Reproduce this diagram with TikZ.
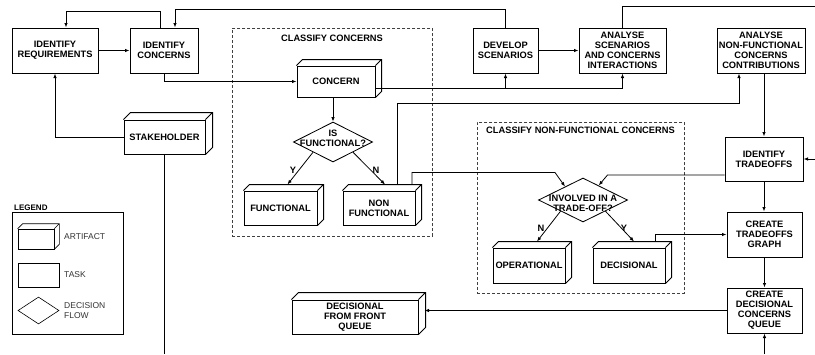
\documentclass[tikz,border=0pt]{standalone}
\usepackage{fontspec}
\setmainfont{Liberation Sans}
\usetikzlibrary{arrows.meta,calc,shapes.geometric}

\newcommand\labfont{\fontsize{9.3}{10}\selectfont\bfseries}
\newcommand\legfont{\fontsize{8.5}{9.5}\selectfont}

% top and right faces of an artifact block (node name, depth)
\newcommand\solidtop[2]{%
  \draw[boxline] (#1.north west) -- ++(#2,-#2) -- ($(#1.north east)+(#2,-#2)$)
    -- ($(#1.south east)+(#2,-#2)$) -- (#1.south east)
    (#1.north east) -- ++(#2,-#2);}

\begin{document}
\begin{tikzpicture}[x=1pt,y=-1pt,
  boxline/.style={line width=1pt, line join=miter},
  task/.style={draw, boxline, rectangle, align=center, font=\labfont, inner sep=0pt},
  artifact/.style={draw, boxline, rectangle, align=center, font=\labfont, inner sep=0pt},
  decision/.style={draw, diamond, line width=0.85pt, inner sep=0pt},
  lab/.style={align=center, font=\labfont, inner sep=0pt},
  groupbox/.style={draw=black!75, dashed, dash pattern=on 3pt off 2pt, line width=0.7pt, rectangle, inner sep=0pt},
  conn/.style={line width=0.8pt, -{Latex[length=4.5pt,width=3.5pt]}},
  plain/.style={line width=0.8pt},
  legbox/.style={draw, line width=0.6pt, rectangle, inner sep=0pt},
  legtext/.style={font=\legfont, text=black!80, align=left, inner sep=0pt, anchor=west}]
\useasboundingbox (0,0) rectangle (815,354);

% dashed groups
\node[groupbox, minimum width=200pt, minimum height=208pt, anchor=north west] (cc) at (232,28) {};
\node[lab] (cc-title) at (332,38) {CLASSIFY CONCERNS};
\node[groupbox, minimum width=207pt, minimum height=171pt, anchor=north west] (cnf) at (477,122) {};
\node[lab] (cnf-title) at (580.5,130) {CLASSIFY NON-FUNCTIONAL CONCERNS};

% tasks
\node[task, minimum width=86pt, minimum height=45pt] (idreq) at (55,50.5) {IDENTIFY\\REQUIREMENTS};
\node[task, minimum width=68pt, minimum height=45pt] (idconc) at (164,50.5) {IDENTIFY\\CONCERNS};
\node[task, minimum width=65pt, minimum height=45pt] (dev) at (505.5,50.5) {DEVELOP\\SCENARIOS};
\node[task, minimum width=87pt, minimum height=45pt] (ansc) at (622.5,50.5) {ANALYSE\\SCENARIOS\\AND CONCERNS\\INTERACTIONS};
\node[task, minimum width=88pt, minimum height=45pt] (annf) at (761,50.5) {ANALYSE\\NON-FUNCTIONAL\\CONCERNS\\CONTRIBUTIONS};
\node[task, minimum width=78pt, minimum height=44pt] (idtr) at (764,159) {IDENTIFY\\TRADEOFFS};
\node[task, minimum width=75pt, minimum height=45pt] (ctg) at (764.5,234.5) {CREATE\\TRADEOFFS\\GRAPH};
\node[task, minimum width=75pt, minimum height=45pt] (cdq) at (764.5,310.5) {CREATE\\DECISIONAL\\CONCERNS\\QUEUE};

% artifacts
\node[artifact, minimum width=78pt, minimum height=31pt] (concern) at (336,81.5) {CONCERN};
\node[artifact, minimum width=81pt, minimum height=34pt] (stake) at (164.5,137) {STAKEHOLDER};
\node[artifact, minimum width=73pt, minimum height=34pt] (func) at (280.5,208) {FUNCTIONAL};
\node[artifact, minimum width=72pt, minimum height=34pt] (nonf) at (379,208) {NON\\FUNCTIONAL};
\node[artifact, minimum width=72pt, minimum height=35pt] (oper) at (529,265.5) {OPERATIONAL};
\node[artifact, minimum width=72pt, minimum height=35pt] (dec) at (629,265.5) {DECISIONAL};
\node[artifact, minimum width=126pt, minimum height=34pt] (dffq) at (355,317) {DECISIONAL\\FROM FRONT\\QUEUE};
\solidtop{concern}{6}
\solidtop{stake}{7}
\solidtop{func}{6}
\solidtop{nonf}{6}
\solidtop{oper}{6}
\solidtop{dec}{6}
\solidtop{dffq}{7}

% decisions
\node[decision, minimum width=79pt, minimum height=40pt] (isf) at (333,142) {};
\node[lab] (isf-text) at (333,138) {IS\\FUNCTIONAL?};
\node[decision, minimum width=89pt, minimum height=44pt] (inv) at (583,200) {};
\node[lab] (inv-text) at (583,203) {INVOLVED IN A\\TRADE-OFF?};

% off-picture ends
\coordinate (offtop) at (815,6);
\coordinate (offright) at (815,159);
\coordinate (offbottom) at (764.5,354);
\coordinate (offbottom2) at (164.5,354);
\coordinate (dffqside) at ([xshift=6pt]dffq.east);

% connectors
\draw[conn] (idreq.east) -- (idconc.west);
\draw[conn] ([xshift=-4pt]idconc.north) -- ++(0,-16) -| ([xshift=11pt]idreq.north);
\draw[conn] (dev.north) -- ++(0,-18) -| ([xshift=11pt]idconc.north);
\draw[conn] (idconc.south) |- (concern.west);
\draw[conn] ([yshift=-6.5pt]concern.east) -| (dev.south);
\coordinate (split) at ([yshift=-6.5pt]concern.east -| dev.south);
\draw[conn] (split) -| (ansc.south);
\draw[conn] (dev.east) -- (ansc.west);
\draw[plain] (ansc.north) |- (offtop);
\draw[conn] (idtr.north |- annf.south) -- (idtr.north);
\draw[conn] (offright) -- (idtr.east);
\draw[conn] ([shift={(18pt,6pt)}]nonf.north) -- ++(0,-81) -| ([xshift=-22pt]annf.south);
\draw[conn] ([shift={(33pt,6pt)}]nonf.north) -- ++(0,-12) -- ++(143,0) -- ($(inv.west)!0.6!(inv.north)$);
\draw[conn] ([yshift=-16pt]idtr.west) -- ++(-117,0) -- ($(inv.north)!0.35!(inv.east)$);
\draw[conn] (isf.north |- concern.south) -- (isf.north);
\draw[conn] ($(isf.west)!0.5!(isf.south)$) -- ([shift={(7pt,6pt)}]func.north);
\draw[conn] ($(isf.east)!0.5!(isf.south)$) -- ([shift={(6pt,6pt)}]nonf.north);
\draw[conn] ($(inv.west)!0.5!(inv.south)$) -- ([shift={(8pt,6pt)}]oper.north);
\draw[conn] ($(inv.east)!0.5!(inv.south)$) -- ([shift={(5pt,6pt)}]dec.north);
\draw[conn] ([shift={(26pt,6pt)}]dec.north) |- (ctg.west);
\draw[conn] (idtr.south) -- (idtr.south |- ctg.north);
\draw[conn] (ctg.south) -- (cdq.north);
\draw[conn] (offbottom) -- (cdq.south);
\draw[conn] (cdq.west) -- (dffqside |- cdq.west);
\draw[conn] (stake.west) -| (idreq.south);
\draw[plain] (stake.south) -- (offbottom2);

% branch labels
\node[lab] (isf-y) at (293,170) {Y};
\node[lab] (isf-n) at (376,170) {N};
\node[lab] (inv-n) at (541,228) {N};
\node[lab] (inv-y) at (624,228) {Y};

% legend
\node[legbox, minimum width=111pt, minimum height=122pt, anchor=north west] (legend) at (12,212) {};
\node[font=\fontsize{8}{9}\selectfont\bfseries, inner sep=0pt, anchor=south west] (legend-title) at (14,211) {LEGEND};
\node[legbox, minimum width=36pt, minimum height=20pt] (lg-art) at (36,239) {};
\draw[line width=0.6pt] (lg-art.north west) -- ++(5,-5) -- ($(lg-art.north east)+(5,-5)$)
  -- ($(lg-art.south east)+(5,-5)$) -- (lg-art.south east) (lg-art.north east) -- ++(5,-5);
\node[legbox, minimum width=41pt, minimum height=24pt] (lg-task) at (38.5,275) {};
\node[draw, diamond, line width=0.6pt, inner sep=0pt, minimum width=41pt, minimum height=27pt] (lg-dec) at (38.5,310.5) {};
\node[legtext] (lg-art-text) at (64,237) {ARTIFACT};
\node[legtext] (lg-task-text) at (64,275) {TASK};
\node[legtext] (lg-dec-text) at (64,310.5) {DECISION\\FLOW};
\end{tikzpicture}
\end{document}
